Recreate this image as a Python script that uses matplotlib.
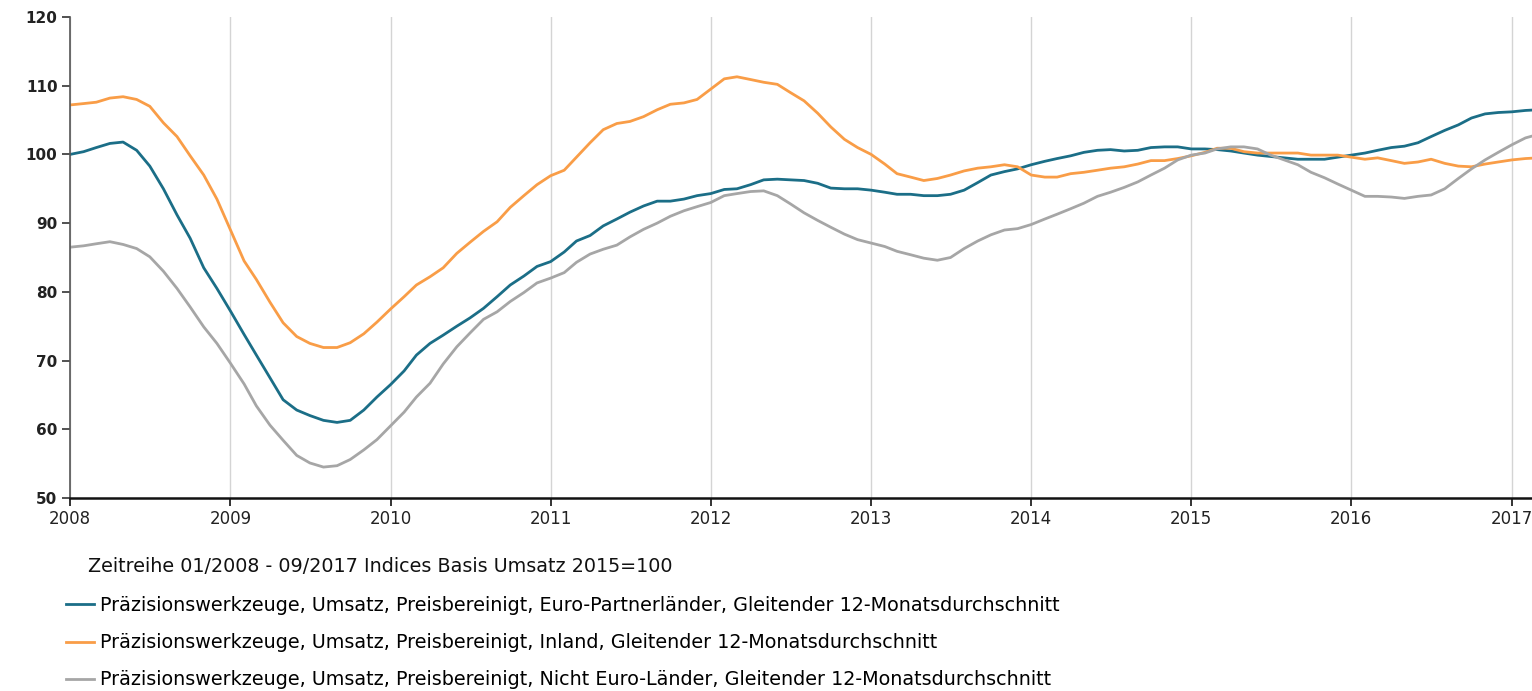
import numpy as np
import pandas as pd
import matplotlib
matplotlib.use("Agg")
import matplotlib.pyplot as plt
import matplotlib.dates as mdates

# ---- DATA (monthly, Jan 2008 onwards)
teal = [
    100.0, 100.4, 101.0, 101.6, 101.8, 100.6, 98.3, 95.0, 91.2, 87.8, 83.5, 80.5,   # 2008
    77.2, 73.8, 70.8, 67.5, 64.3, 62.8, 62.0, 61.3, 61.0, 61.3, 62.8, 64.7,        # 2009
    66.5, 68.5, 70.8, 72.5, 73.7, 75.0, 76.2, 77.6, 79.3, 81.0, 82.3, 83.7,        # 2010
    84.4, 85.8, 87.4, 88.2, 89.6, 90.6, 91.6, 92.5, 93.2, 93.2, 93.5, 94.0,        # 2011
    94.3, 94.9, 95.0, 95.6, 96.3, 96.4, 96.3, 96.2, 95.8, 95.1, 95.0, 95.0,        # 2012
    94.8, 94.5, 94.2, 94.2, 94.0, 94.0, 94.2, 94.8, 95.9, 97.0, 97.5, 97.9,        # 2013
    98.5, 99.0, 99.4, 99.8, 100.3, 100.6, 100.7, 100.5, 100.6, 101.0, 101.1, 101.1,  # 2014
    100.8, 100.8, 100.7, 100.5, 100.2, 99.9, 99.7, 99.5, 99.3, 99.3, 99.3, 99.6,     # 2015
    99.9, 100.2, 100.6, 101.0, 101.2, 101.7, 102.6, 103.5, 104.3, 105.3, 105.9, 106.1,  # 2016
    106.2, 106.4, 106.5,                                                            # 2017
]
orange = [
    107.2, 107.4, 107.6, 108.2, 108.4, 108.0, 107.0, 104.6, 102.6, 99.8, 97.0, 93.5,
    89.0, 84.5, 81.8, 78.5, 75.5, 73.5, 72.5, 71.9, 71.9, 72.6, 73.9, 75.6,
    77.5, 79.3, 81.0, 82.2, 83.5, 85.6, 87.2, 88.8, 90.2, 92.3, 94.0, 95.6,
    96.9, 97.7, 99.6, 101.7, 103.6, 104.5, 104.8, 105.5, 106.5, 107.3, 107.5, 108.0,
    109.5, 111.0, 111.3, 110.9, 110.5, 110.2, 109.0, 107.8, 106.0, 104.0, 102.2, 101.0,
    100.0, 98.6, 97.2, 96.7, 96.2, 96.5, 97.0, 97.6, 98.0, 98.2, 98.5, 98.2,
    97.0, 96.7, 96.7, 97.2, 97.4, 97.7, 98.0, 98.2, 98.6, 99.1, 99.1, 99.4,
    99.8, 100.3, 100.9, 100.9, 100.4, 100.2, 100.2, 100.2, 100.2, 99.9, 99.9, 99.9,
    99.6, 99.3, 99.5, 99.1, 98.7, 98.9, 99.3, 98.7, 98.3, 98.2, 98.6, 98.9,
    99.2, 99.4, 99.5,
]
gray = [
    86.5, 86.7, 87.0, 87.3, 86.9, 86.3, 85.1, 83.0, 80.5, 77.8, 74.9, 72.5,
    69.6, 66.6, 63.4, 60.6, 58.4, 56.2, 55.1, 54.5, 54.7, 55.6, 57.0, 58.5,
    60.5, 62.5, 64.7, 66.7, 69.5, 72.0, 74.0, 76.0, 77.1, 78.6, 79.9, 81.3,
    82.0, 82.8, 84.3, 85.5, 86.2, 86.8, 88.0, 89.1, 90.0, 91.0, 91.8, 92.4,
    93.0, 94.0, 94.3, 94.6, 94.7, 94.0, 92.8, 91.5, 90.4, 89.4, 88.4, 87.6,
    87.1, 86.6, 85.9, 85.4, 84.9, 84.6, 85.0, 86.3, 87.4, 88.3, 89.0, 89.2,
    89.8, 90.6, 91.3, 92.1, 92.9, 93.9, 94.5, 95.2, 96.0, 97.0, 98.0, 99.2,
    99.9, 100.2, 100.8, 101.1, 101.1, 100.8, 99.9, 99.2, 98.5, 97.4, 96.6, 95.7,
    94.8, 93.9, 93.9, 93.8, 93.6, 93.9, 94.1, 95.0, 96.5, 97.9, 99.2, 100.3,
    101.4, 102.4, 102.9,
]

labels = [
    "Präzisionswerkzeuge, Umsatz, Preisbereinigt, Euro-Partnerländer, Gleitender 12-Monatsdurchschnitt",
    "Präzisionswerkzeuge, Umsatz, Preisbereinigt, Inland, Gleitender 12-Monatsdurchschnitt",
    "Präzisionswerkzeuge, Umsatz, Preisbereinigt, Nicht Euro-Länder, Gleitender 12-Monatsdurchschnitt",
]
title = "Zeitreihe 01/2008 - 09/2017 Indices Basis Umsatz 2015=100"
colors = ["#1b6e87", "#f99d47", "#a6a6a6"]

dates = pd.date_range("2008-01-01", periods=len(teal), freq="MS")

# ---- FIGURE
W, H = 1532, 691
fig = plt.figure(figsize=(W / 100, H / 100), dpi=100)
ax = fig.add_axes([70 / W, 1 - 498 / H, 1 - 70 / W, (498 - 17) / H])

lines = []
for ser, col, lab in zip([teal, orange, gray], colors, labels):
    ln, = ax.plot(dates, ser, color=col, lw=2.0, label=lab, solid_joinstyle="round")
    lines.append(ln)

ax.set_ylim(50, 120)
ax.set_yticks(np.arange(50, 121, 10))
ax.set_xlim(pd.Timestamp("2008-01-01"), pd.Timestamp("2017-02-16"))
ax.xaxis.set_major_locator(mdates.YearLocator())
ax.xaxis.set_major_formatter(mdates.DateFormatter("%Y"))

ax.grid(axis="x", color="#d4d4d4", lw=1.0)
ax.set_axisbelow(True)
for s in ["top", "right"]:
    ax.spines[s].set_visible(False)
ax.spines["left"].set_color("#555555")
ax.spines["left"].set_linewidth(1.2)
ax.spines["bottom"].set_color("#111111")
ax.spines["bottom"].set_linewidth(1.8)
ax.tick_params(axis="y", length=6, width=1.2, color="#333333", labelsize=11, pad=3)
ax.tick_params(axis="x", length=6, width=1.2, color="#111111", labelsize=12, pad=3)
for t in ax.get_yticklabels():
    t.set_fontweight("bold")
    t.set_color("#222222")
for t in ax.get_xticklabels():
    t.set_color("#222222")

# ---- LEGEND
fig.text(88 / W, 1 - 566 / H, title, fontsize=13.8, va="center", ha="left", color="#111111")
fig.legend(handles=lines, labels=labels, loc="upper left",
           bbox_to_anchor=(66 / W, 1 - 596 / H), frameon=False, fontsize=13.8,
           handlelength=1.45, handletextpad=0.3, labelspacing=0.95,
           borderpad=0, borderaxespad=0)

fig.savefig("out.png", dpi=100)
